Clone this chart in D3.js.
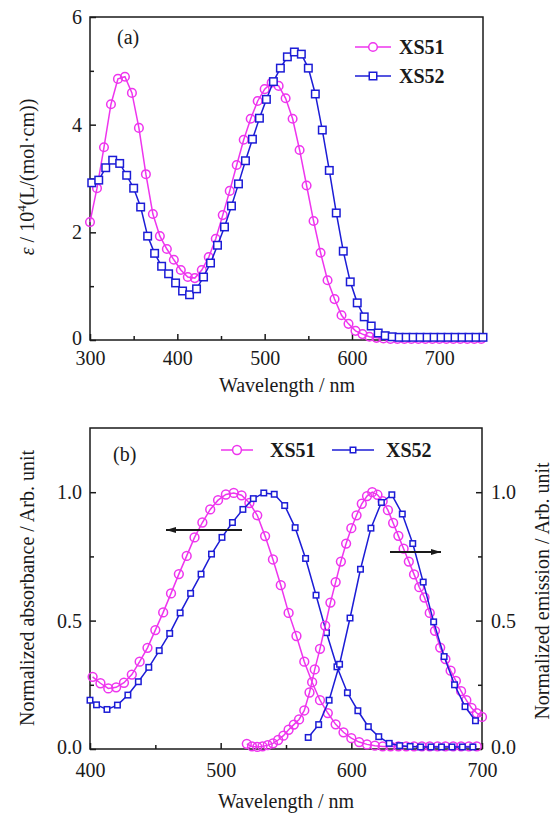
<!DOCTYPE html>
<html>
<head>
<meta charset="utf-8">
<script src="https://cdn.jsdelivr.net/npm/d3@7"></script>
<style>
  body { margin: 0; background: #fff; }
  text { font-family: "Liberation Serif", "Times New Roman", serif; }
</style>
</head>
<body>
<script>
// ---- panel (a): molar absorptivity, 10^4 L/(mol cm)
var wlA51 = [300, 308, 316, 324, 332, 340, 348, 356, 364, 372, 380, 388, 396, 404, 412, 420, 428, 436, 444, 452,
    460, 468, 476, 484, 492, 500, 508, 516, 524, 532, 540, 548, 556, 564, 572, 580, 588, 596, 604, 612,
    620, 628, 636, 644, 652, 660, 668, 676, 684, 692, 700, 708, 716, 724, 732, 740, 748]
var epsA51 = [2.19, 2.82, 3.58, 4.38, 4.85, 4.89, 4.59, 3.94, 3.08, 2.34, 1.93, 1.69, 1.49, 1.30, 1.17, 1.15, 1.30, 1.54, 1.88, 2.32,
    2.77, 3.25, 3.72, 4.11, 4.44, 4.66, 4.78, 4.72, 4.49, 4.11, 3.53, 2.87, 2.21, 1.62, 1.11, 0.76, 0.46, 0.30, 0.17, 0.11,
    0.06, 0.04, 0.03, 0.02, 0.02, 0.02, 0.02, 0.02, 0.02, 0.02, 0.02, 0.02, 0.02, 0.02, 0.02, 0.02, 0.02]
var wlA52 = [302, 310, 318, 326, 334, 342, 350, 358, 366, 374, 382, 390, 398, 406, 414, 422, 430, 438, 446, 454,
    462, 470, 478, 486, 494, 502, 510, 518, 526, 534, 542, 550, 558, 566, 574, 582, 590, 598, 606, 614,
    622, 630, 638, 646, 654, 662, 670, 678, 686, 694, 702, 710, 718, 726, 734, 742, 750]
var epsA52 = [2.92, 2.97, 3.20, 3.34, 3.28, 3.06, 2.82, 2.47, 1.93, 1.61, 1.37, 1.23, 1.06, 0.91, 0.84, 0.95, 1.17, 1.43, 1.76, 2.10,
    2.49, 2.90, 3.33, 3.73, 4.12, 4.47, 4.80, 5.05, 5.26, 5.35, 5.31, 5.05, 4.57, 3.90, 3.15, 2.36, 1.65, 1.08, 0.69, 0.43,
    0.26, 0.13, 0.08, 0.06, 0.05, 0.05, 0.05, 0.05, 0.05, 0.05, 0.05, 0.05, 0.05, 0.05, 0.05, 0.05, 0.05]

// ---- panel (b): normalized absorbance and emission
var wlAbs51 = [402, 408, 414, 420, 426, 432, 438, 444, 450, 456, 462, 468, 474, 480, 486, 492, 498, 504, 510, 516,
    522, 528, 534, 540, 546, 552, 558, 564, 570, 576, 582, 588, 594, 600, 606, 612, 618, 624, 630, 636,
    642, 648, 654, 660, 666, 672, 678, 684, 690, 696]
var abs51 = [0.281, 0.256, 0.236, 0.240, 0.258, 0.290, 0.340, 0.394, 0.463, 0.532, 0.606, 0.681, 0.752, 0.824, 0.882, 0.933, 0.969, 0.991, 0.997, 0.988,
    0.958, 0.91, 0.829, 0.738, 0.638, 0.53, 0.44, 0.34, 0.26, 0.19, 0.14, 0.096, 0.065, 0.042, 0.027, 0.018, 0.013, 0.01, 0.01, 0.01,
    0.01, 0.01, 0.01, 0.01, 0.01, 0.01, 0.01, 0.01, 0.01, 0.01]
var wlAbs52 = [400, 405, 413, 421, 429, 437, 445, 453, 461, 469, 477, 485, 493, 501, 509, 517, 525, 533, 541, 549,
    557, 565, 573, 581, 589, 597, 605, 613, 621, 629, 637, 645, 653, 661, 669, 677, 685, 693]
var abs52 = [0.19, 0.172, 0.154, 0.171, 0.210, 0.262, 0.318, 0.383, 0.450, 0.530, 0.606, 0.681, 0.759, 0.824, 0.882, 0.933, 0.975, 0.997, 0.992, 0.948,
    0.862, 0.742, 0.599, 0.453, 0.320, 0.219, 0.149, 0.087, 0.048, 0.022, 0.013, 0.01, 0.008, 0.008, 0.008, 0.008, 0.008, 0.008]
var wlEm51 = [520, 524, 528, 532, 536, 540, 544, 548, 552, 556, 560, 564, 568, 572, 576, 580, 584, 588, 592, 596,
    600, 604, 608, 612, 616, 620, 624, 628, 632, 636, 640, 644, 648, 652, 656, 660, 664, 668, 672, 676,
    680, 684, 688, 692, 696, 700]
var em51 = [0.02, 0.01, 0.008, 0.01, 0.015, 0.022, 0.035, 0.052, 0.075, 0.095, 0.115, 0.15, 0.22, 0.31, 0.39, 0.48, 0.57, 0.65, 0.73, 0.80,
    0.86, 0.91, 0.955, 0.985, 1.0, 0.99, 0.965, 0.93, 0.88, 0.83, 0.78, 0.73, 0.68, 0.63, 0.59, 0.53, 0.46, 0.395, 0.35, 0.305,
    0.265, 0.225, 0.19, 0.16, 0.14, 0.125]
var wlEm52 = [567, 575, 583, 591, 599, 607, 615, 623, 631, 639, 647, 655, 663, 671, 679, 687, 695]
var em52 = [0.045, 0.095, 0.19, 0.33, 0.51, 0.70, 0.86, 0.96, 0.99, 0.915, 0.80, 0.65, 0.495, 0.36, 0.25, 0.165, 0.11]

var pink = "#ee35ee"
var blue = "#1c1cd6"
var ink = "#1a1a1a"

var svg = d3.select("body").append("svg")
    .attr("width", 555)
    .attr("height", 814)

function styleAxis(g) {
    g.select(".domain").remove()
    g.selectAll("line").attr("stroke", ink).attr("stroke-width", 1.5)
    g.selectAll("text")
        .attr("font-family", "Liberation Serif")
        .attr("font-size", 20)
        .attr("fill", ink)
}

function drawAxes(x, y, opt) {
    var b = y.range()[0], t = y.range()[1], l = x.range()[0], r = x.range()[1]

    svg.append("g").attr("transform", "translate(0," + b + ")")
        .call(d3.axisBottom(x).tickValues(opt.xMajor).tickSize(-6).tickPadding(opt.xPad).tickFormat(d3.format("d")))
        .call(styleAxis)
    svg.append("g").attr("transform", "translate(0," + b + ")")
        .call(d3.axisBottom(x).tickValues(opt.xMinor).tickSize(-4).tickFormat(""))
        .call(styleAxis)

    var left = svg.append("g").attr("transform", "translate(" + l + ",0)")
        .call(d3.axisLeft(y).tickValues(opt.yMajor).tickSize(-6).tickPadding(8).tickFormat(opt.yFmt))
        .call(styleAxis)
    // the bottom label sits a touch higher, as in the original
    left.selectAll("text").filter(d => d === 0).attr("dy", "0.2em")
    svg.append("g").attr("transform", "translate(" + l + ",0)")
        .call(d3.axisLeft(y).tickValues(opt.yMinor).tickSize(-4).tickFormat(""))
        .call(styleAxis)

    if (opt.right) {
        var right = svg.append("g").attr("transform", "translate(" + r + ",0)")
            .call(d3.axisRight(y).tickValues(opt.yMajor).tickSize(-6).tickPadding(9).tickFormat(opt.yFmt))
            .call(styleAxis)
        right.selectAll("text").filter(d => d === 0).attr("dy", "0.2em")
        svg.append("g").attr("transform", "translate(" + r + ",0)")
            .call(d3.axisRight(y).tickValues(opt.yMinor).tickSize(-4).tickFormat(""))
            .call(styleAxis)
    }

    svg.append("rect")
        .attr("x", l).attr("y", t)
        .attr("width", r - l).attr("height", b - t)
        .attr("fill", "none")
        .attr("stroke", ink)
        .attr("stroke-width", 1.5)
}

function drawSeries(x, y, wl, vals, color, marker, size) {
    var pts = d3.zip(wl, vals)
    var line = d3.line().x(d => x(d[0])).y(d => y(d[1]))

    svg.append("path")
        .datum(pts)
        .attr("d", line)
        .attr("fill", "none")
        .attr("stroke", color)
        .attr("stroke-width", 1.5)

    if (marker === "circle") {
        svg.append("g").selectAll("circle")
            .data(pts)
            .enter()
            .append("circle")
            .attr("cx", d => x(d[0]))
            .attr("cy", d => y(d[1]))
            .attr("r", size)
            .attr("fill", "none")
            .attr("stroke", color)
            .attr("stroke-width", 1.5)
    } else {
        svg.append("g").selectAll("rect")
            .data(pts)
            .enter()
            .append("rect")
            .attr("x", d => x(d[0]) - size / 2)
            .attr("y", d => y(d[1]) - size / 2)
            .attr("width", size)
            .attr("height", size)
            .attr("fill", "#fff")
            .attr("stroke", color)
            .attr("stroke-width", 1.5)
    }
}

function legendItem(cx, cy, half, color, marker, size, label, tx) {
    svg.append("line")
        .attr("x1", cx - half).attr("x2", cx + half)
        .attr("y1", cy).attr("y2", cy)
        .attr("stroke", color).attr("stroke-width", 1.5)
    if (marker === "circle") {
        svg.append("circle").attr("cx", cx).attr("cy", cy).attr("r", size)
            .attr("fill", "#fff").attr("stroke", color).attr("stroke-width", 1.5)
    } else {
        svg.append("rect").attr("x", cx - size / 2).attr("y", cy - size / 2)
            .attr("width", size).attr("height", size)
            .attr("fill", "#fff").attr("stroke", color).attr("stroke-width", 1.5)
    }
    svg.append("text")
        .attr("x", tx).attr("y", cy + 7)
        .attr("font-size", 20)
        .attr("font-weight", "bold")
        .attr("fill", ink)
        .text(label)
}

function vLabel(x, y, txt) {
    return svg.append("text")
        .attr("transform", "translate(" + x + "," + y + ")rotate(-90)")
        .attr("text-anchor", "middle")
        .attr("font-size", 20)
        .attr("fill", ink)
        .text(txt)
}

// ================= panel (a)
var xA = d3.scaleLinear().domain([300, 750]).range([90, 483])
var yA = d3.scaleLinear().domain([0, 6]).range([340, 17])

drawAxes(xA, yA, {
    xMajor: [300, 400, 500, 600, 700], xMinor: [350, 450, 550, 650, 750], xPad: 11,
    yMajor: [0, 2, 4, 6], yMinor: [1, 3, 5], yFmt: d3.format("d"), right: false
})

drawSeries(xA, yA, wlA51, epsA51, pink, "circle", 4.3)
drawSeries(xA, yA, wlA52, epsA52, blue, "square", 7.5)

svg.append("text").attr("x", 117).attr("y", 44).attr("font-size", 20).attr("fill", ink).text("(a)")
legendItem(373, 47, 18, pink, "circle", 4.3, "XS51", 399)
legendItem(373, 76, 18, blue, "square", 7.5, "XS52", 399)

svg.append("text")
    .attr("x", 287).attr("y", 392)
    .attr("text-anchor", "middle")
    .attr("font-size", 20)
    .attr("fill", ink)
    .text("Wavelength / nm")

var yLabA = vLabel(34, 177, "")
yLabA.append("tspan").attr("font-style", "italic").text("ε")
yLabA.append("tspan").text(" / 10")
yLabA.append("tspan").attr("font-size", 13).attr("dy", -8).text("4")
yLabA.append("tspan").attr("dy", 8).text("(L/(mol·cm))")

// ================= panel (b)
var xB = d3.scaleLinear().domain([400, 700]).range([90, 482])
var yB = d3.scaleLinear().domain([0, 1.25]).range([749, 428])

drawAxes(xB, yB, {
    xMajor: [400, 500, 600, 700], xMinor: [450, 550, 650], xPad: 14,
    yMajor: [0, 0.5, 1.0], yMinor: [0.25, 0.75], yFmt: d3.format(".1f"), right: true
})

drawSeries(xB, yB, wlAbs51, abs51, pink, "circle", 4.4)
drawSeries(xB, yB, wlAbs52, abs52, blue, "square", 5.5)
drawSeries(xB, yB, wlEm51, em51, pink, "circle", 4.4)
drawSeries(xB, yB, wlEm52, em52, blue, "square", 5.5)

svg.append("text").attr("x", 113).attr("y", 461).attr("font-size", 20).attr("fill", ink).text("(b)")
legendItem(237, 450, 16, pink, "circle", 4.4, "XS51", 270)
legendItem(353, 450, 21, blue, "square", 5.5, "XS52", 386)

svg.append("defs").append("marker")
    .attr("id", "head")
    .attr("viewBox", "0 0 10 6")
    .attr("refX", 10).attr("refY", 3)
    .attr("markerWidth", 10).attr("markerHeight", 6)
    .attr("markerUnits", "userSpaceOnUse")
    .attr("orient", "auto")
    .append("path")
    .attr("d", "M0,0L10,3L0,6Z")
    .attr("fill", ink)

svg.append("line")
    .attr("x1", 242).attr("x2", 166).attr("y1", 530).attr("y2", 530)
    .attr("stroke", ink).attr("stroke-width", 1.8)
    .attr("marker-end", "url(#head)")
svg.append("line")
    .attr("x1", 390).attr("x2", 441).attr("y1", 552).attr("y2", 552)
    .attr("stroke", ink).attr("stroke-width", 1.8)
    .attr("marker-end", "url(#head)")

svg.append("text")
    .attr("x", 286).attr("y", 808)
    .attr("text-anchor", "middle")
    .attr("font-size", 20)
    .attr("fill", ink)
    .text("Wavelength / nm")

vLabel(34, 588, "Normalized absorbance / Arb. unit")
vLabel(549, 591, "Normalized emission / Arb. unit")
</script>
</body>
</html>
